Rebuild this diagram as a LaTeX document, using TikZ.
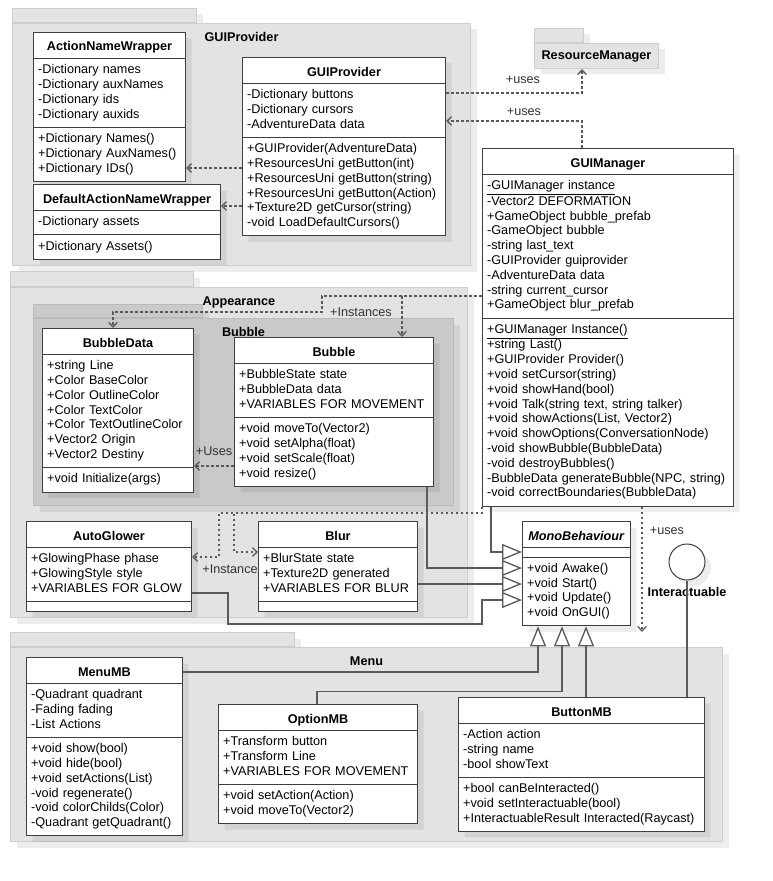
\documentclass[tikz,border=0pt]{standalone}
\usepackage{fontspec}
\setmainfont{Liberation Sans}
\usetikzlibrary{positioning,calc,arrows.meta,shapes.multipart,shadows}

\definecolor{pkgfill}{RGB}{227,227,227}
\definecolor{pkgline}{RGB}{205,205,205}
\definecolor{subfill}{RGB}{201,201,201}
\definecolor{subline}{RGB}{186,186,186}
\definecolor{clsline}{RGB}{62,62,62}
\definecolor{conline}{RGB}{90,90,90}

\newcommand{\clname}[1]{\makebox[\linewidth][c]{\rule[-2.1pt]{0pt}{12.4pt}\textbf{#1}}}
\newcommand{\members}[1]{\begin{tabular}[t]{@{}l@{}}#1\end{tabular}}

\tikzset{every picture/.style={line width=0.75pt},
  umlfont/.style={font=\fontsize{9.5}{11.1}\selectfont},
  boxshadow/.style={drop shadow={shadow xshift=4.5pt, shadow yshift=-4.5pt, fill=black, opacity=0.07}},
  umlclass/.style={umlfont, boxshadow, rectangle split, rectangle split parts=3, draw=clsline, fill=white, align=left, anchor=north west, inner xsep=3.5pt, inner ysep=3.2pt},
  pkg/.style={umlfont, boxshadow, draw=pkgline, fill=pkgfill, inner sep=0pt},
  subpkg/.style={pkg, draw=subline, fill=subfill},
  pkgname/.style={font=\fontsize{9.5}{11.1}\selectfont\bfseries, anchor=north, inner sep=0pt, text height=7pt, text depth=2pt},
  lbl/.style={umlfont, text=black!80, inner sep=1pt},
  dep/.style={draw=conline, line width=1pt, dash pattern=on 2pt off 1.75pt, -{Straight Barb[length=3.5pt, width=6.5pt]}},
  inh/.style={draw=conline, line width=1pt, -{Triangle[length=15pt, width=12pt, fill=white]}},
  conn/.style={draw=conline, line width=1pt}
}

\begin{document}
\begin{tikzpicture}[x=0.75pt,y=0.75pt,yscale=-1,xscale=1]
\path[use as bounding box, fill=white] (0,0) rectangle (773,881);

%Package: GUIProvider
\node[pkg, minimum width=138pt, minimum height=10.5pt, anchor=south west] (guiTab) at (12,23) {};
\node[pkg, minimum width=343.5pt, minimum height=181.5pt, below right=0pt of guiTab.south west] (guiPkg) {};
\node[pkgname] (guiName) at ($(guiPkg.north)+(0,9)$) {GUIProvider};
%Package: ResourceManager
\node[pkg, minimum width=36.75pt, minimum height=10.5pt, anchor=south west] (rmTab) at (534,43) {};
\node[pkg, minimum width=93pt, minimum height=18.75pt, below right=0pt of rmTab.south west, font=\fontsize{9.5}{11.1}\selectfont\bfseries] (rm) {ResourceManager};
%Package: Appearance
\node[pkg, minimum width=137.25pt, minimum height=11.25pt, anchor=south west] (appTab) at (10,287) {};
\node[pkg, minimum width=342.75pt, minimum height=247.5pt, below right=0pt of appTab.south west] (appPkg) {};
\node[pkgname] (appName) at ($(appPkg.north)+(0,9)$) {Appearance};
%Package: Bubble
\node[subpkg, minimum width=126.75pt, minimum height=9.75pt, anchor=south west] (bubTab) at (33,318) {};
\node[subpkg, minimum width=315pt, minimum height=140.25pt, below right=0pt of bubTab.south west] (bubPkg) {};
\node[pkgname] (bubName) at ($(bubPkg.north)+(0,9)$) {Bubble};
%Package: Menu
\node[pkg, minimum width=213pt, minimum height=10.5pt, anchor=south west] (menuTab) at (10,647) {};
\node[pkg, minimum width=534pt, minimum height=145.5pt, below right=0pt of menuTab.south west] (menuPkg) {};
\node[pkgname] (menuName) at ($(menuPkg.north)+(0,9)$) {Menu};

%Class: ActionNameWrapper
\node[umlclass, text width=107pt] (anw) at (33,32) {\clname{ActionNameWrapper}
  \nodepart{two}\members{-Dictionary names\\-Dictionary auxNames\\-Dictionary ids\\-Dictionary auxids}
  \nodepart{three}\members{+Dictionary Names()\\+Dictionary AuxNames()\\+Dictionary IDs()}};
%Class: DefaultActionNameWrapper
\node[umlclass, text width=133.25pt] (danw) at (33,184) {\clname{DefaultActionNameWrapper}
  \nodepart{two}\members{-Dictionary assets}
  \nodepart{three}\members{+Dictionary Assets()}};
%Class: GUIProvider
\node[umlclass, text width=145.25pt] (gp) at (242,57) {\clname{GUIProvider}
  \nodepart{two}\members{-Dictionary buttons\\-Dictionary cursors\\-AdventureData data}
  \nodepart{three}\members{+GUIProvider(AdventureData)\\+ResourcesUni getButton(int)\\+ResourcesUni getButton(string)\\+ResourcesUni getButton(Action)\\+Texture2D getCursor(string)\\-void LoadDefaultCursors()}};
%Class: GUIManager
\node[umlclass, text width=181.25pt] (gm) at (482,148) {\clname{GUIManager}
  \nodepart{two}\members{\underline{-GUIManager instance}\\-Vector2 DEFORMATION\\+GameObject bubble\_prefab\\-GameObject bubble\\-string last\_text\\-GUIProvider guiprovider\\-AdventureData data\\-string current\_cursor\\+GameObject blur\_prefab}
  \nodepart{three}\members{\underline{+GUIManager Instance()}\\+string Last()\\+GUIProvider Provider()\\+void setCursor(string)\\+void showHand(bool)\\+void Talk(string text, string talker)\\+void showActions(List, Vector2)\\+void showOptions(ConversationNode)\\-void showBubble(BubbleData)\\-void destroyBubbles()\\-BubbleData generateBubble(NPC, string)\\-void correctBoundaries(BubbleData)}};
%Class: BubbleData
\node[umlclass, text width=106.25pt] (bd) at (42,328) {\clname{BubbleData}
  \nodepart{two}\members{+string Line\\+Color BaseColor\\+Color OutlineColor\\+Color TextColor\\+Color TextOutlineColor\\+Vector2 Origin\\+Vector2 Destiny}
  \nodepart{three}\members{+void Initialize(args)}};
%Class: Bubble
\node[umlclass, text width=142.25pt] (bub) at (234,337) {\clname{Bubble}
  \nodepart{two}\members{+BubbleState state\\+BubbleData data\\+VARIABLES FOR MOVEMENT}
  \nodepart{three}\members{+void moveTo(Vector2)\\+void setAlpha(float)\\+void setScale(float)\\+void resize()}};
%Class: AutoGlower
\node[umlclass, text width=116.75pt] (ag) at (26,521) {\clname{AutoGlower}
  \nodepart{two}\members{+GlowingPhase phase\\+GlowingStyle style\\+VARIABLES FOR GLOW}
  \nodepart{three}};
%Class: Blur
\node[umlclass, text width=112.25pt] (blur) at (258,521) {\clname{Blur}
  \nodepart{two}\members{+BlurState state\\+Texture2D generated\\+VARIABLES FOR BLUR}
  \nodepart{three}};
%Class: MonoBehaviour
\node[umlclass, text width=74pt] (mono) at (522,521) {\clname{\textit{MonoBehaviour}}
  \nodepart{two}
  \nodepart{three}\members{+void Awake()\\+void Start()\\+void Update()\\+void OnGUI()}};
%Class: MenuMB
\node[umlclass, text width=110pt] (menu) at (26,657) {\clname{MenuMB}
  \nodepart{two}\members{-Quadrant quadrant\\-Fading fading\\-List Actions}
  \nodepart{three}\members{+void show(bool)\\+void hide(bool)\\+void setActions(List)\\-void regenerate()\\-void colorChilds(Color)\\-Quadrant getQuadrant()}};
%Class: OptionMB
\node[umlclass, text width=142.25pt] (opt) at (218,704) {\clname{OptionMB}
  \nodepart{two}\members{+Transform button\\+Transform Line\\+VARIABLES FOR MOVEMENT}
  \nodepart{three}\members{+void setAction(Action)\\+void moveTo(Vector2)}};
%Class: ButtonMB
\node[umlclass, text width=177.5pt] (btn) at (458,697) {\clname{ButtonMB}
  \nodepart{two}\members{-Action action\\-string name\\-bool showText}
  \nodepart{three}\members{+bool canBeInteracted()\\+void setInteractuable(bool)\\+InteractuableResult Interacted(Raycast)}};

%Interface: Interactuable
\node[circle, draw=clsline, fill=white, boxshadow, minimum size=27pt, inner sep=0pt] (iface) at (687,562) {};
\node[pkgname, anchor=center] (ifaceName) at ($(iface.south)+(0,13)$) {Interactuable};

%Helper points
\coordinate (gpA) at ($(gp.north west)+(0,111)$);
\coordinate (gpB) at ($(gp.north west)+(0,149)$);
\coordinate (gmI) at ($(gm.north west)+(0,148)$);
\coordinate (instTurn) at ($(bub.north west)+(88,-25)$);
\coordinate (bubU) at ($(bub.north west)+(0,129)$);
\coordinate (instBus) at ($(ag.north east)+(27,-8)$);
\coordinate (monoC) at ($(mono.north west)+(0,63)$);
\coordinate (agLow) at ($(ag.north east)+(36,103)$);
\coordinate (menuUse) at ($(menuPkg.north west)+(632,-15)$);

%Dependencies
\draw[dep] (gpA) -- (gpA -| anw.east);
\draw[dep] (gpB) -- (gpB -| danw.east);
\draw[dep] ($(gp.north east)+(0,36)$) -| ($(rm.south west)+(48,0)$);
\draw[dep] ($(gm.north west)+(100,0)$) |- ($(gp.north east)+(0,64)$);
\draw[dep] (gmI) -| ($(bub.north west)+(168,0)$);
\draw[dep] (gmI) -| (instTurn) -| ($(bd.north west)+(71,0)$);
\draw[dep] (bubU) -- (bubU -| bd.east);
\draw[dep] (gm.south west) |- (instBus) |- ($(ag.north east)+(0,36)$);
\draw[dep] (gm.south west) |- ($(instBus)+(15,0)$) |- ($(blur.north west)+(0,31)$);
\draw[dep] ($(gm.south west)+(160,0)$) -- (menuUse);

%Generalizations
\draw[inh] ($(gm.south west)+(9,0)$) |- ($(mono.north west)+(0,31)$);
\draw[inh] ($(bub.south west)+(193,0)$) |- ($(mono.north west)+(0,47)$);
\draw[inh] (monoC -| blur.east) -- (monoC);
\draw[inh] ($(ag.north east)+(0,72)$) -| (agLow) -| ($(mono.north west)+(-40,79)$) -- ($(mono.north west)+(0,79)$);
\draw[inh] ($(menu.north east)+(0,15)$) -| ($(mono.south west)+(16,0)$);
\draw[inh] ($(opt.north west)+(99,0)$) |- ($(mono.south west)+(40,65)$) -- ($(mono.south west)+(40,0)$);
\draw[inh] ($(btn.north west)+(128,0)$) -- ($(mono.south west)+(64,0)$);
\draw[conn] (iface.south) -- (iface.south |- btn.north);

% Text Node
\node[lbl] (usesRm) at ($(gp.north east)+(77,23)$) {+uses};
\node[lbl] (usesGp) at ($(gp.north east)+(78,55)$) {+uses};
\node[lbl] (instLbl) at ($(bub.north west)+(127,-25)$) {+Instances};
\node[lbl] (usesBd) at ($(bd.south east)+(20,-41)$) {+Uses};
\node[lbl] (instLbl2) at ($(ag.north east)+(38,48)$) {+Instance};
\node[lbl] (usesMenu) at ($(gm.south west)+(185,24)$) {+uses};

\end{tikzpicture}
\end{document}
